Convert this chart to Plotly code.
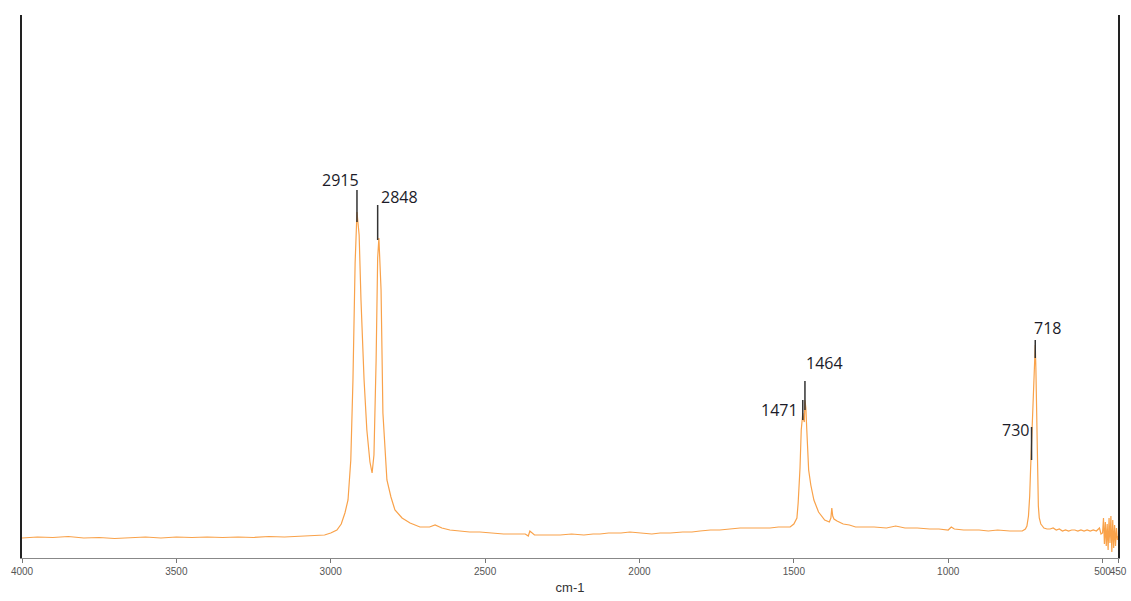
import plotly.graph_objects as go

# Spectrum (wavenumber cm-1, intensity in arbitrary units)
wavenumber = [4000, 3950, 3900, 3850, 3800, 3750, 3700, 3650, 3600, 3550, 3500, 3450, 3400, 3350,
              3300, 3250, 3200, 3150, 3100, 3050, 3020, 3000, 2980, 2966, 2954, 2944, 2935, 2928,
              2921, 2915, 2908, 2902, 2892, 2883, 2873, 2866, 2860, 2853, 2848, 2844, 2837, 2831,
              2824, 2818, 2805, 2792, 2769, 2743, 2711, 2680, 2662, 2640, 2614, 2580, 2550, 2517,
              2480, 2440, 2400, 2370, 2360, 2355, 2340, 2300, 2257, 2220, 2180, 2150, 2128, 2100,
              2060, 2031, 2000, 1960, 1933, 1900, 1860, 1830, 1804, 1770, 1740, 1700, 1674, 1640,
              1610, 1577, 1550, 1530, 1512, 1500, 1490, 1486, 1480, 1476, 1473, 1471, 1468, 1466,
              1464, 1461, 1458, 1455, 1452, 1445, 1435, 1420, 1400, 1385, 1380, 1377, 1374, 1370,
              1360, 1340, 1320, 1300, 1270, 1240, 1200, 1170, 1140, 1100, 1060, 1030, 1000, 990,
              980, 950, 920, 900, 870, 840, 800, 780, 760, 750, 745, 740, 736, 733, 731, 729, 727,
              724, 721, 718, 716, 714, 712, 710, 708, 705, 700, 695, 690, 680, 670, 660, 650, 640,
              630, 620, 610, 600, 590, 580, 570, 560, 550, 540, 530, 520, 510, 505, 500, 497, 494,
              491, 488, 485, 482, 479, 476, 473, 470, 467, 464, 461, 458, 455, 452, 450]
intensity = [20, 21, 20.5, 21.5, 20, 20.5, 19.5, 20.5, 21, 20, 21, 20.5, 21, 20.5,
             21, 20.5, 21.5, 21, 21.5, 22, 23, 25, 28, 34, 45, 58, 98, 178,
             295, 346, 323, 258, 178, 128, 96, 85, 103, 198, 300, 320, 268, 145,
             103, 78, 61, 48, 40, 35, 31, 31, 33, 30, 28, 27, 26, 26,
             25, 24, 24, 24, 22, 27, 23, 23, 23, 24, 23, 24, 24, 25,
             25, 26, 25, 24, 25, 25, 26, 26, 27, 28, 28, 29, 30, 30,
             30, 30, 31, 31, 31, 34, 40, 55, 90, 128, 142, 145, 138, 136,
             158, 150, 128, 105, 88, 73, 58, 46, 38, 36, 40, 50, 42, 39,
             37, 34, 33, 31, 31, 31, 30, 32, 30, 30, 29, 29, 28, 31,
             29, 28, 28, 28, 27, 28, 27, 27, 27, 29, 32, 42, 62, 90, 108, 112, 125,
             160, 200, 213, 190, 150, 110, 75, 52, 40, 34, 32, 30, 29, 29, 30, 28, 29,
             27, 28, 27, 28, 28, 27, 28, 27, 28, 27, 28, 27, 30, 24, 25, 40, 14,
             36, 12, 34, 8, 40, 15, 42, 6, 38, 10, 33, 12, 30, 18, 22]

# Peak labels
peak_wavenumbers = [2915, 2848, 1471, 1464, 730, 718]
peak_labels = ["2915", "2848", "1471", "1464", "730", "718"]
peak_line_top = [368, 353, 158, 177, 131, 218]
peak_line_bottom = [336, 318, 138, 148, 98, 200]

# Axis ticks
tick_values = [4000, 3500, 3000, 2500, 2000, 1500, 1000, 500, 450]
tick_labels = ["4000", "3500", "3000", "2500", "2000", "1500", "1000", "500", "450"]

# Label placement styles
label_style = {
    "2915": dict(xanchor="right", yanchor="bottom", xshift=4, yshift=-3),
    "2848": dict(xanchor="left", yanchor="bottom", xshift=1, yshift=-5),
    "1471": dict(xanchor="right", yanchor="middle", xshift=-3, yshift=-10),
    "1464": dict(xanchor="left", yanchor="bottom", xshift=-1, yshift=5),
    "730": dict(xanchor="right", yanchor="middle", xshift=-1, yshift=-3),
    "718": dict(xanchor="left", yanchor="bottom", xshift=-3, yshift=-1),
}

fig = go.Figure()
fig.add_trace(go.Scatter(x=wavenumber, y=intensity, mode="lines",
                         line=dict(color="#F9A24A", width=1.2), hoverinfo="x+y",
                         showlegend=False))

for wn, lab, top, bot in zip(peak_wavenumbers, peak_labels, peak_line_top, peak_line_bottom):
    fig.add_shape(type="line", x0=wn, x1=wn, y0=bot, y1=top, xref="x", yref="y",
                  line=dict(color="#333333", width=1.5))
    st = label_style[lab]
    fig.add_annotation(x=wn, y=top, text=lab, showarrow=False,
                       font=dict(family="Open Sans, Noto Sans, sans-serif", size=16, color="#1b1b28"),
                       **st)

fig.update_layout(
    width=1131, height=601,
    margin=dict(l=22, r=13, t=15, b=43, autoexpand=False),
    paper_bgcolor="white", plot_bgcolor="white",
    xaxis=dict(range=[4000, 450], tickvals=tick_values, ticktext=tick_labels,
               tickangle=0, automargin=False,
               ticks="outside", ticklen=4, tickcolor="#777777",
               showline=True, linecolor="#888888", linewidth=1.2,
               showgrid=False, zeroline=False,
               tickfont=dict(family="Liberation Sans Narrow, Liberation Sans, Arial", size=10, color="#555555"),
               title=dict(text="cm-1", font=dict(family="Liberation Sans, Arial", size=13, color="#333333"),
                          standoff=6)),
    yaxis=dict(range=[0, 543], showline=True, mirror=True, linecolor="#222222", linewidth=1.6,
               showgrid=False, zeroline=False, showticklabels=False, ticks="", automargin=False),
)

fig.write_html("out.html")
